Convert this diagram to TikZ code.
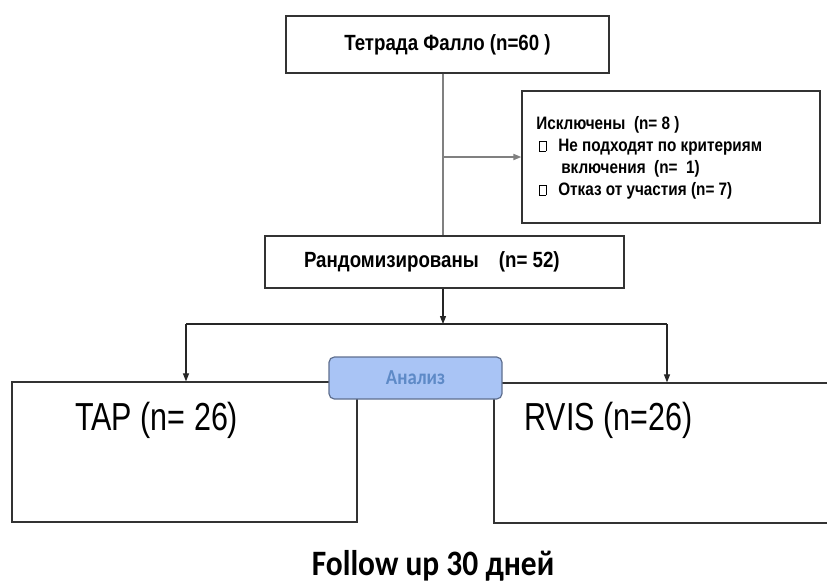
\documentclass[tikz,border=0pt]{standalone}
\usepackage{fontspec}
\setmainfont{Liberation Sans}
\newfontfamily\boxfont[FakeStretch=0.85]{Liberation Sans}
\newfontfamily\bigfont[FakeStretch=0.78]{Liberation Sans}
\newfontfamily\calfont[FakeStretch=0.88]{Carlito}
\usetikzlibrary{arrows.meta}
\definecolor{analfill}{HTML}{A9C4F5}
\definecolor{analdraw}{HTML}{5F6F8F}
\definecolor{analtext}{HTML}{5E8AC7}
\newcommand{\sqmark}{{\setlength{\fboxsep}{0pt}\setlength{\fboxrule}{0.6pt}\raisebox{0.2pt}{\fbox{\rule{0pt}{7.2pt}\hspace{4.2pt}}}}}

\begin{document}
\begin{tikzpicture}[x=0.75pt, y=-0.75pt,
        box/.style={draw=black!80, line width=0.9pt, inner sep=0pt},
        boxtext/.style={font=\boxfont\bfseries\fontsize{16.5}{19}\selectfont},
        bigtext/.style={anchor=base west, inner sep=0pt, font=\bigfont\fontsize{29.3}{32}\selectfont},
        grayline/.style={draw=black!50, line width=1.3pt},
        line/.style={draw=black!85, line width=0.8pt},
        head/.style={-{Triangle[length=6pt, width=4.5pt]}}]
        \useasboundingbox (0,0) rectangle (827,583);

        \node[box, boxtext, minimum width=242.25pt, minimum height=42.75pt] (tetr) at (447.5,44.5) {Тетрада Фалло (n=60 )};
        \node[box, minimum width=223.5pt, minimum height=99pt] (excl) at (671,157) {};
        \node[anchor=north west, align=left, inner sep=0pt, font=\boxfont\bfseries\fontsize{13.5}{16.5}\selectfont] (excltext) at (536,116)
                {Исключены~~(n=~8~)\\
                 \makebox[16.5pt][l]{\hspace{2.25pt}\sqmark}Не подходят по критериям\\
                 \hspace{18.75pt}включения~~(n=~~1)\\
                 \makebox[16.5pt][l]{\hspace{2.25pt}\sqmark}Отказ от участия (n=~7)};
        \node[box, boxtext, minimum width=269.25pt, minimum height=39pt] (rand) at (444.5,262) {Рандомизированы\hspace{15pt}(n= 52)\hspace{19pt}\mbox{}};
        \node[box, minimum width=258.75pt, minimum height=105pt] (tap) at (184.5,452) {};
        \node[box, minimum width=267pt, minimum height=105pt] (rvis) at (672,453) {};
        \node[draw=analdraw, fill=analfill, line width=0.9pt, rounded corners=4pt, minimum width=129.75pt, minimum height=31.5pt,
                text=analtext, font=\calfont\bfseries\fontsize{16}{18}\selectfont] (anal) at (415.5,378) {Анализ};
        \node[bigtext] (taptext) at (75,430) {TAP (n= 26)};
        \node[bigtext] (rvistext) at (524,430) {RVIS (n=26)};
        \node[anchor=base, inner sep=0pt, font=\calfont\bfseries\fontsize{26.8}{30}\selectfont] (follow) at (433,575) {Follow up 30 дней};

        \coordinate (split) at (443,157);
        \coordinate (fork) at (443,324);
        \coordinate (forkl) at (186,324);
        \coordinate (forkr) at (667,324);

        \draw[grayline] (tetr.south -| split) -- (rand.north -| split);
        \draw[grayline, head] (split) -- (excl.west |- split);
        \draw[line, head] (rand.south -| fork) -- (fork);
        \draw[line] (forkl) -- (forkr);
        \draw[line, head] (forkl) -- (forkl |- tap.north);
        \draw[line, head] (forkr) -- (forkr |- rvis.north);
\end{tikzpicture}
\end{document}
